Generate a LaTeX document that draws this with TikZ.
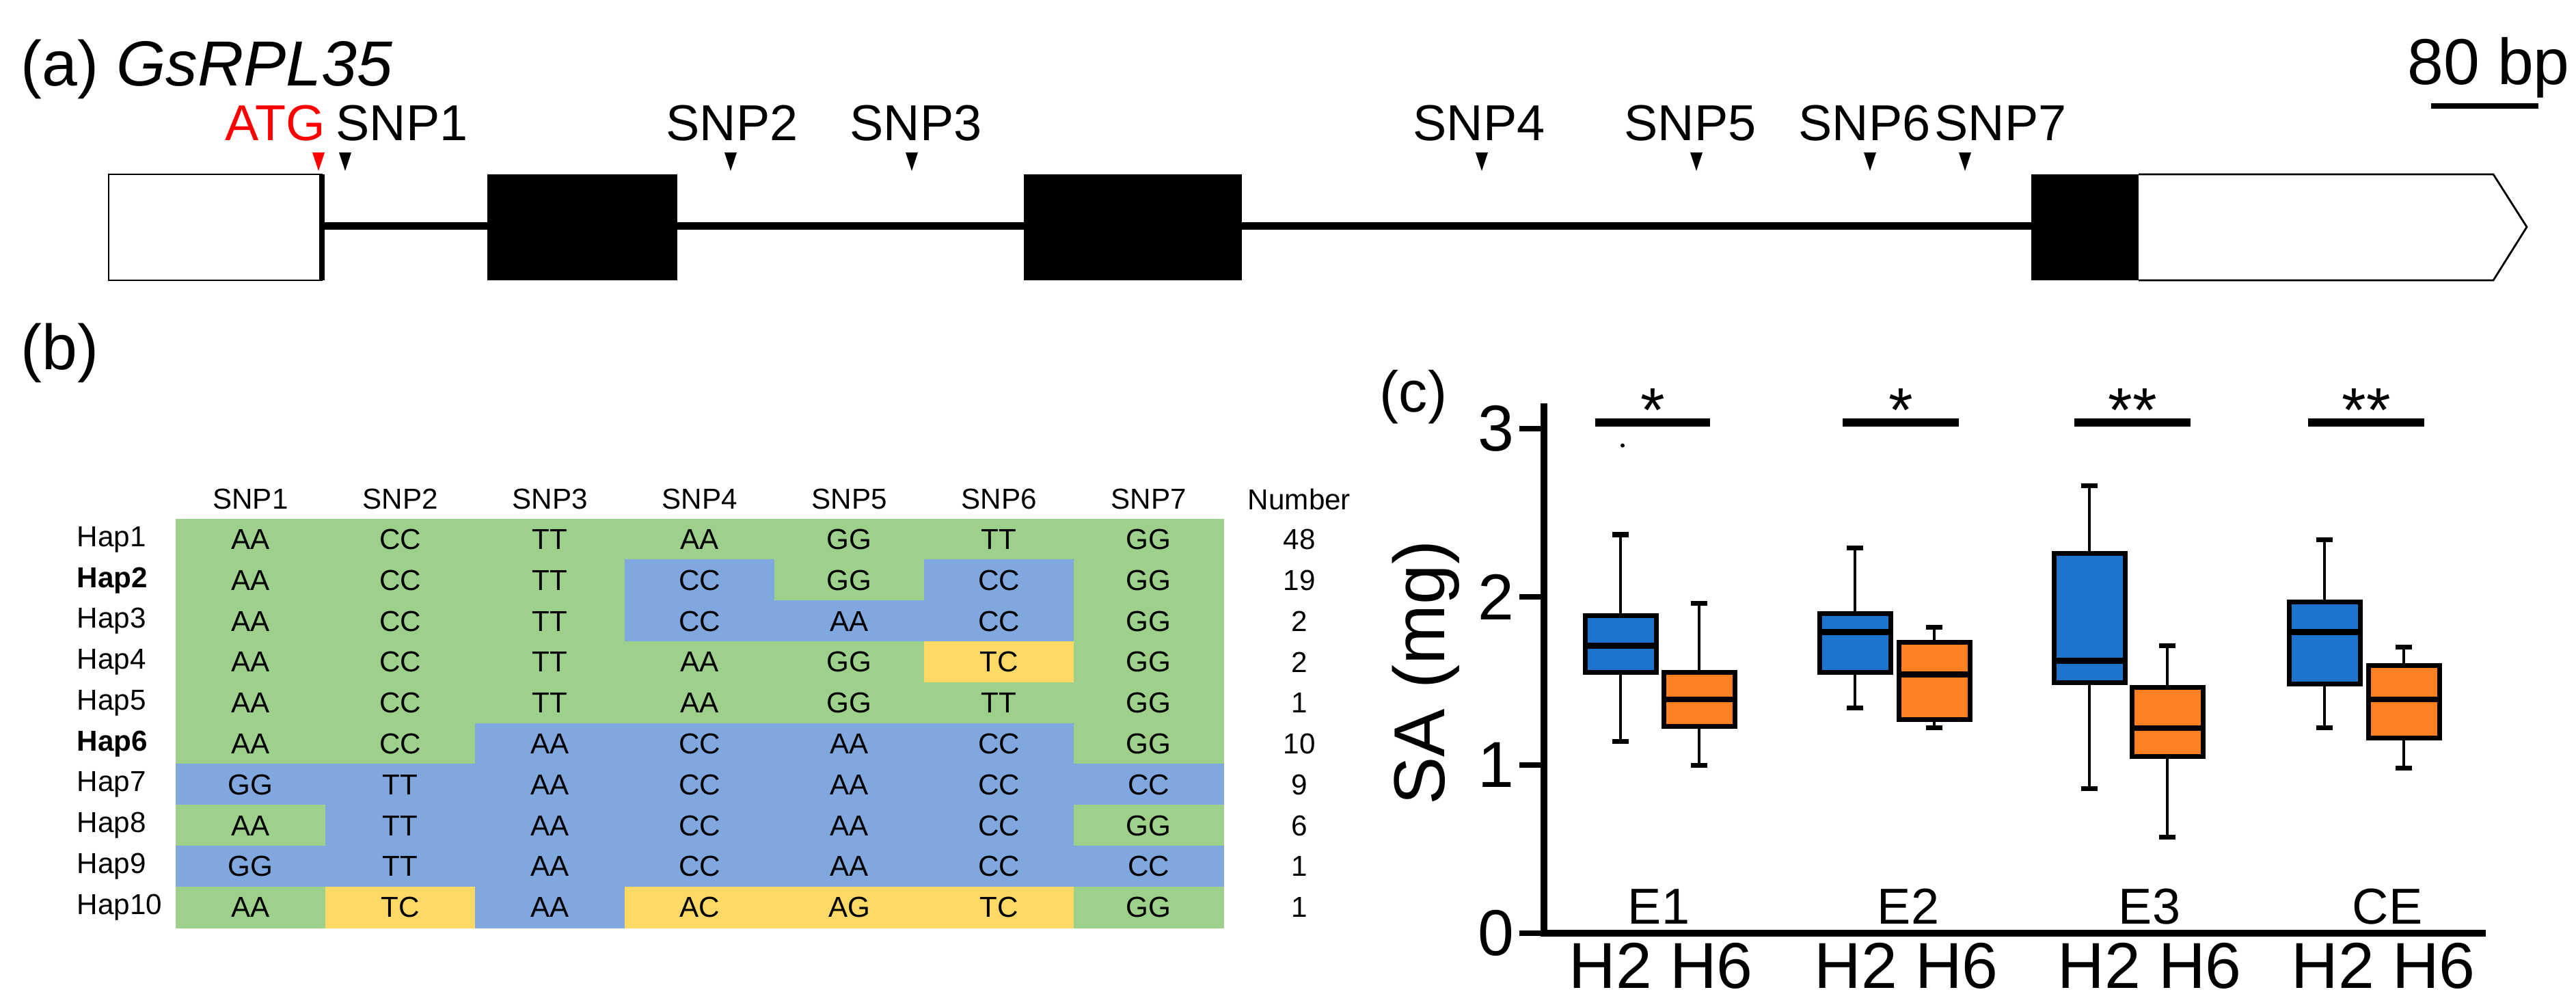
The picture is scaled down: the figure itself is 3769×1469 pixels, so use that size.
\documentclass[tikz,border=0pt]{standalone}
\usepackage{fontspec}
\setmainfont{Liberation Sans}
\definecolor{cG}{HTML}{9DD18B}
\definecolor{cB}{HTML}{80A8DE}
\definecolor{cY}{HTML}{FFD966}
\definecolor{bxB}{HTML}{1E73CC}
\definecolor{bxO}{HTML}{FF8020}
\newcommand\fs[1]{\fontsize{#1}{#1}\selectfont}
\newcommand\Vy[1]{{1365-246*(#1)}}
\newcommand\bxplot[7]{%
  \draw[line width=1.1pt] (#1,\Vy{#2}) -- (#1,\Vy{#6});
  \draw[line width=2pt] ({#1-12},\Vy{#2}) -- ({#1+12},\Vy{#2});
  \draw[line width=2pt] ({#1-12},\Vy{#6}) -- ({#1+12},\Vy{#6});
  \draw[fill=#7,line width=2pt] ({#1-52},\Vy{#3}) rectangle ({#1+52},\Vy{#5});
  \draw[line width=2.5pt] ({#1-52},\Vy{#4}) -- ({#1+52},\Vy{#4});
}
\tikzset{
  snp/.style={font=\fs{21pt}, anchor=base},
  tri/.style={fill=black},
  cell/.style={font=\fs{12pt}},
  big/.style={font=\fs{27pt}},
}
\begin{document}
\begin{tikzpicture}[x=0.01cm,y=-0.01cm]
\useasboundingbox (0,0) rectangle (3769,1469);
% ---------- (a)
\node[anchor=base west, font=\fs{26.5pt}] (alab) at (18,125) {(a) \textit{GsRPL35}};
\node[anchor=base, font=\fs{27pt}] (bp) at (3641,123) {80 bp};
\draw[line width=2.3pt] (3557,155) -- (3714,155);
% gene
\draw[line width=0.8pt, fill=white] (159,255) rectangle (471,410);
\fill (471,325) rectangle (2972,336);
\draw[line width=2pt] (471,255) -- (471,410);
\fill (713,255) rectangle (991,410);
\fill (1498,255) rectangle (1817,410);
\fill (2972,255) rectangle (3129,410);
\draw[line width=0.8pt, fill=white] (3129,255) -- (3648,255) -- (3697,332) -- (3648,410) -- (3129,410);
% triangles & labels
\fill[red] (457,223) -- (475,223) -- (466,250) -- cycle;
\node[snp, text=red] (atg) at (403,205) {ATG};
\foreach \x/\lx/\n in {505/588/1,1069/1071/2,1334/1340/3,2168/2164/4,2482/2473/5,2736/2728/6,2875/2927/7}{
  \fill (\x-9,223) -- (\x+9,223) -- (\x,250) -- cycle;
  \node[snp] (snp\n) at (\lx,205) {SNP\n};
}
% ---------- (b)
\node[font=\fs{26.5pt}, anchor=base west] (blab) at (18,540) {(b)};
\foreach \h [count=\c] in {SNP1,SNP2,SNP3,SNP4,SNP5,SNP6,SNP7}{
  \node[cell] (h\c) at ({257+219*(\c-0.5)},730) {\h};
}
\node[cell] (hn) at (1901,730) {Number};
\foreach \row/\lab/\num [count=\r] in {
 {G/AA,G/CC,G/TT,G/AA,G/GG,G/TT,G/GG}/Hap1/48,
 {G/AA,G/CC,G/TT,B/CC,G/GG,B/CC,G/GG}/\textbf{Hap2}/19,
 {G/AA,G/CC,G/TT,B/CC,B/AA,B/CC,G/GG}/Hap3/2,
 {G/AA,G/CC,G/TT,G/AA,G/GG,Y/TC,G/GG}/Hap4/2,
 {G/AA,G/CC,G/TT,G/AA,G/GG,G/TT,G/GG}/Hap5/1,
 {G/AA,G/CC,B/AA,B/CC,B/AA,B/CC,G/GG}/\textbf{Hap6}/10,
 {B/GG,B/TT,B/AA,B/CC,B/AA,B/CC,B/CC}/Hap7/9,
 {G/AA,B/TT,B/AA,B/CC,B/AA,B/CC,G/GG}/Hap8/6,
 {B/GG,B/TT,B/AA,B/CC,B/AA,B/CC,B/CC}/Hap9/1,
 {G/AA,Y/TC,B/AA,Y/AC,Y/AG,Y/TC,G/GG}/Hap10/1}{
  \foreach \col/\txt [count=\c] in \row {
    \fill[c\col] ({257+219*(\c-1)-0.5},{759+59.8*(\r-1)-0.5}) rectangle ({257+219*\c+0.5},{759+59.8*\r+0.5});
    \node[cell] (t\r-\c) at ({257+219*(\c-0.5)},{759+59.8*(\r-0.5)}) {\txt};
  }
  \node[cell, anchor=west, inner sep=0pt] (hap\r) at (112,{759+59.8*(\r-0.5)}) {\lab};
  \node[cell] (num\r) at (1901,{759+59.8*(\r-0.5)}) {\num};
}
% ---------- (c)
\node[font=\fs{24pt}] (clab) at (2068,581) {(c)};
\draw[line width=2.8pt] (2259,590) -- (2259,1365) -- (3637,1365);
\foreach \v in {0,1,2,3}{
  \draw[line width=2.5pt] (2223,\Vy{\v}) -- (2259,\Vy{\v});
  \node[big, anchor=east, inner sep=2pt] (tk\v) at (2223,\Vy{\v}) {\v};
}
\node[font=\fs{30pt}, rotate=90] (ylab) at (2086,984) {SA (mg)};
% significance bars
\foreach \a/\b/\s [count=\i] in {2334/2502/*,2696/2866/*,3035/3205/**,3377/3547/**}{
  \draw[line width=3.4pt] (\a,618) -- (\b,618);
  \node[font=\fs{26pt}] (st\i) at ({(\a+\b)/2},600) {\s};
}
% boxes
\bxplot{2371}{1.14}{1.55}{1.71}{1.89}{2.37}{bxB}
\fill (2374,\Vy{2.9}) circle (3);
\bxplot{2486}{1.0}{1.23}{1.39}{1.55}{1.96}{bxO}
\bxplot{2714}{1.34}{1.55}{1.79}{1.90}{2.29}{bxB}
\bxplot{2830}{1.22}{1.27}{1.54}{1.73}{1.82}{bxO}
\bxplot{3057}{0.86}{1.49}{1.62}{2.26}{2.66}{bxB}
\bxplot{3171}{0.57}{1.05}{1.22}{1.46}{1.71}{bxO}
\bxplot{3401}{1.22}{1.48}{1.79}{1.97}{2.34}{bxB}
\bxplot{3517}{0.98}{1.16}{1.39}{1.59}{1.70}{bxO}
% group labels
\foreach \x/\t [count=\i] in {2427/E1,2792/E2,3145/E3,3493/CE}{
  \node[font=\fs{21pt}] (g\i) at (\x,1326) {\t};
}
\foreach \x [count=\i] in {2430,2789,3145,3487}{
  \node[big] (hh\i) at (\x,1413) {H2 H6};
}
\end{tikzpicture}
\end{document}
